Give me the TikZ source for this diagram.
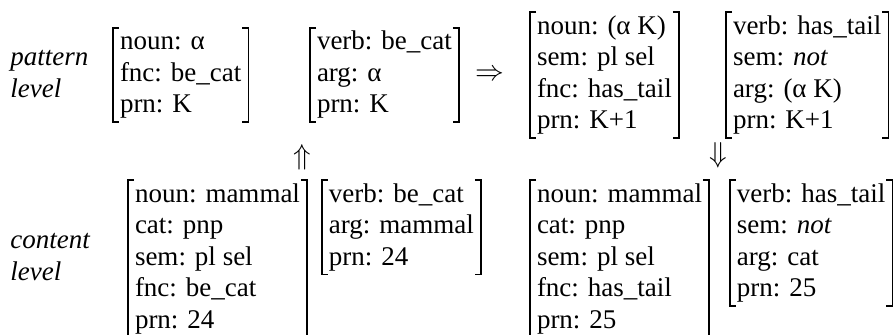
\documentclass[tikz,border=0pt]{standalone}
\usepackage{fontspec}
\setmainfont{Liberation Serif}
\usetikzlibrary{positioning,calc}

% one attribute per row, every row one baselineskip high
\newcommand{\proplet}[1]{\begin{tabular}{@{}l@{}}#1\end{tabular}}

\begin{document}
\begin{tikzpicture}[%
    x=0.5pt, y=-0.5pt,            % one unit per pixel, y running down
    node distance=7.5pt and 7.5pt,
    every node/.style={font=\fontsize{13.5}{15.75}\selectfont}]
% -------------------------------------------------
\tikzset{
  avm/.style={inner xsep=3.5pt, inner ysep=0pt, outer sep=0pt},
  lvl/.style={inner sep=0pt, font=\fontsize{13.5}{15.75}\selectfont\itshape},
  brk/.style={line width=0.8pt},
  infer/.style={inner sep=0pt}
}
\useasboundingbox (0,0) rectangle (893,334);
\clip (0,0) rectangle (893,334);

% -------------------------------------------------
% upper row: the pattern
\node [lvl, anchor=west] (plev) at (10,75) {\proplet{pattern\\level}};
\node [avm, anchor=west] (p1) at (113,75)
  {\proplet{noun: α\\fnc: be\_cat\\prn: K}};
\node [avm, anchor=west] (p2) at (310,75)
  {\proplet{verb: be\_cat\\arg: α\\prn: K}};
\node [infer] (impl) at (490,75) {$\Rightarrow$};
\node [avm, anchor=west] (p3) at (530,75)
  {\proplet{noun: (α K)\\sem: pl sel\\fnc: has\_tail\\prn: K+1}};
\node [avm, anchor=west] (p4) at (726,75)
  {\proplet{verb: has\_tail\\sem: \textit{not}\\arg: (α K)\\prn: K+1}};

% -------------------------------------------------
% lower row: the content, tops aligned
\node [lvl, anchor=west] (clev) at (10,258) {\proplet{content\\level}};
\node [avm, anchor=north west] (c1) at (128,180)
  {\proplet{noun: mammal\\cat: pnp\\sem: pl sel\\fnc: be\_cat\\prn: 24}};
\node [avm, right=of c1.north east, anchor=north west] (c2)
  {\proplet{verb: be\_cat\\arg: mammal\\prn: 24}};
\node [avm, anchor=north west] (c3) at (530,180)
  {\proplet{noun: mammal\\cat: pnp\\sem: pl sel\\fnc: has\_tail\\prn: 25}};
\node [avm, right=10.5pt of c3.north east, anchor=north west] (c4)
  {\proplet{verb: has\_tail\\sem: \textit{not}\\arg: cat\\prn: 25}};

% -------------------------------------------------
% matching up, inferring down
\node [infer] (up) at (302,157) {$\Uparrow$};
\node [infer] (down) at (718,155) {$\Downarrow$};

% square brackets round every feature structure
\foreach \n in {p1,p2,p3,p4,c1,c2,c3,c4}{
  \draw [brk] ($(\n.north west)+(3pt,0)$) -- (\n.north west)
    -- (\n.south west) -- ++(3pt,0);
  \draw [brk] ($(\n.north east)+(-3pt,0)$) -- (\n.north east)
    -- (\n.south east) -- ++(-3pt,0);
}
\end{tikzpicture}
\end{document}
